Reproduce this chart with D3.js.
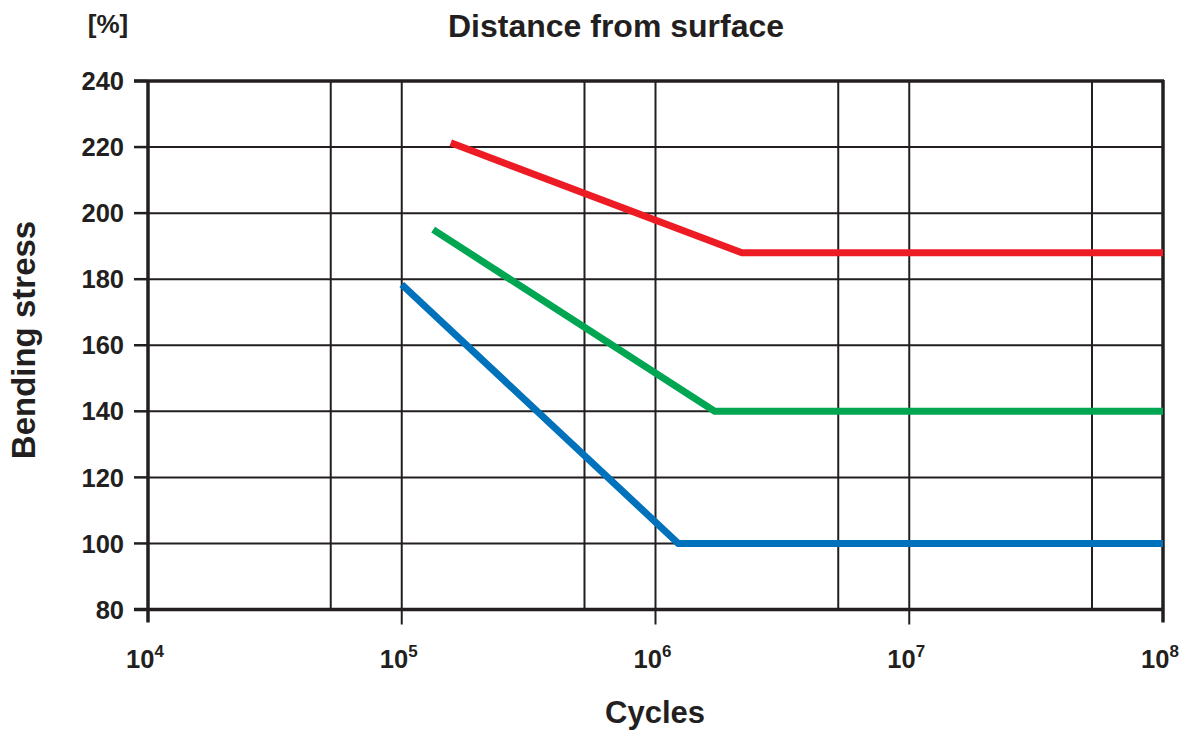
<!DOCTYPE html>
<html>
<head>
<meta charset="utf-8">
<script src="https://cdn.jsdelivr.net/npm/d3@7"></script>
<style>
html,body{margin:0;padding:0;background:#fff;}
svg{display:block;font-family:"Liberation Sans",Arial,Helvetica,sans-serif;font-weight:bold;}
</style>
</head>
<body>
<svg id="chart" width="1192" height="734"></svg>
<script>
// ---- data ----
const seriesNames = ["red", "green", "blue"];
const redCycles = [1.56e5, 2.19e6, 1e8];
const redStress = [221.3, 188, 188];
const greenCycles = [1.33e5, 1.71e6, 1e8];
const greenStress = [195, 140, 140];
const blueCycles = [1.0e5, 1.23e6, 1e8];
const blueStress = [178.4, 100, 100];
const yTicks = [80, 100, 120, 140, 160, 180, 200, 220, 240];
const xMajorTicks = [1e4, 1e5, 1e6, 1e7, 1e8];
const xExponents = ["4", "5", "6", "7", "8"];
const xMinorGrid = [5.25e4, 5.25e5, 5.25e6, 5.25e7];
const titleText = "Distance from surface";
const yTitleText = "Bending stress";
const xTitleText = "Cycles";
const unitText = "[%]";

const colors = {red: "#ed1c24", green: "#00a651", blue: "#0072bc"};
const ink = "#231f20";

const svg = d3.select("#chart");
const pL = 148, pR = 1163, pT = 81, pB = 609.5;

const x = d3.scaleLog().domain([1e4, 1e8]).range([pL, pR]);
const y = d3.scaleLinear().domain([80, 240]).range([pB, pT]);

// horizontal gridlines
svg.append("g").selectAll("line").data(yTicks.filter(d => d !== 80 && d !== 240)).join("line")
  .attr("x1", pL).attr("x2", pR)
  .attr("y1", d => y(d)).attr("y2", d => y(d))
  .attr("stroke", ink).attr("stroke-width", 2);

// vertical minor gridlines
svg.append("g").selectAll("line").data(xMinorGrid).join("line")
  .attr("x1", d => x(d)).attr("x2", d => x(d))
  .attr("y1", pT).attr("y2", pB)
  .attr("stroke", ink).attr("stroke-width", 2);

// vertical major gridlines (interior), extending below axis
svg.append("g").selectAll("line").data(xMajorTicks.slice(1, -1)).join("line")
  .attr("x1", d => x(d)).attr("x2", d => x(d))
  .attr("y1", pT).attr("y2", pB + 15)
  .attr("stroke", ink).attr("stroke-width", 2);

// frame
svg.append("line").attr("x1", pL - 14).attr("x2", pR + 1).attr("y1", pT).attr("y2", pT)
  .attr("stroke", ink).attr("stroke-width", 3.5);
svg.append("line").attr("x1", pL - 14).attr("x2", pR + 1).attr("y1", pB).attr("y2", pB)
  .attr("stroke", ink).attr("stroke-width", 3.5);
svg.append("line").attr("x1", pL).attr("x2", pL).attr("y1", pT - 1).attr("y2", pB + 13)
  .attr("stroke", ink).attr("stroke-width", 3.5);
svg.append("line").attr("x1", pR).attr("x2", pR).attr("y1", pT - 1).attr("y2", pB + 13)
  .attr("stroke", ink).attr("stroke-width", 3.5);

// y tick marks
svg.append("g").selectAll("line").data(yTicks).join("line")
  .attr("x1", pL - 14).attr("x2", pL)
  .attr("y1", d => y(d)).attr("y2", d => y(d))
  .attr("stroke", ink).attr("stroke-width", 2.5);

// y tick labels
svg.append("g").selectAll("text").data(yTicks).join("text")
  .attr("x", 124).attr("y", d => y(d)).attr("dy", "0.36em")
  .attr("text-anchor", "end").attr("font-size", 25.5).attr("fill", ink)
  .text(d => d);

// x tick labels with superscript
const xl = svg.append("g").selectAll("text").data(xMajorTicks).join("text")
  .attr("x", (d) => x(d) - 3).attr("y", 668)
  .attr("text-anchor", "middle").attr("font-size", 25.5).attr("fill", ink);
xl.append("tspan").text("10");
xl.append("tspan").attr("font-size", 17).attr("dy", -11).text((d, i) => xExponents[i]);

// lines
const line = d3.line().x(d => x(d[0])).y(d => y(d[1]));
const series = [
  {name: "red", c: redCycles, s: redStress},
  {name: "green", c: greenCycles, s: greenStress},
  {name: "blue", c: blueCycles, s: blueStress}
];
svg.append("g").selectAll("path").data(series).join("path")
  .attr("d", d => line(d.c.map((v, i) => [v, d.s[i]])))
  .attr("fill", "none").attr("stroke", d => colors[d.name])
  .attr("stroke-width", 7).attr("stroke-linejoin", "miter").attr("stroke-linecap", "butt");

// titles
svg.append("text").attr("x", 616).attr("y", 37).attr("text-anchor", "middle")
  .attr("font-size", 32).attr("fill", ink).text(titleText);
svg.append("text").attr("x", 108).attr("y", 33).attr("text-anchor", "middle")
  .attr("font-size", 26).attr("fill", ink).text(unitText);
svg.append("text").attr("transform", "translate(35,340) rotate(-90)").attr("text-anchor", "middle")
  .attr("font-size", 33).attr("fill", ink).text(yTitleText);
svg.append("text").attr("x", 655).attr("y", 723).attr("text-anchor", "middle")
  .attr("font-size", 31).attr("fill", ink).text(xTitleText);
</script>
</body>
</html>
